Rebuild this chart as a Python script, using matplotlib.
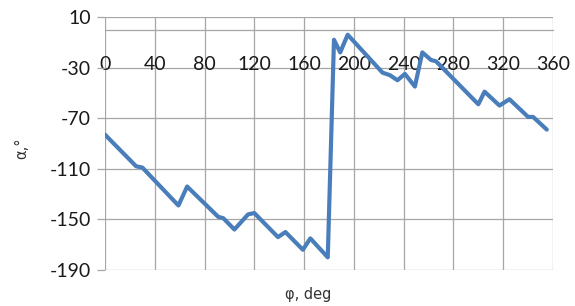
import matplotlib
matplotlib.use("Agg")
import matplotlib.pyplot as plt

phi = [0, 25, 30, 59, 66, 91, 95, 104, 115, 120, 139, 145, 159, 165, 179,
       184, 189, 195, 223, 229, 235, 241, 249, 255, 262, 266, 300, 305, 317,
       325, 340, 344, 355]
alpha = [-83, -108, -109, -139, -124, -148, -149, -158, -146, -145, -164, -160,
         -174, -165, -180, -8, -18, -4, -34, -36, -40, -35, -45, -18, -24, -25,
         -59, -49, -60, -55, -69, -69, -79]

xticks = [0, 40, 80, 120, 160, 200, 240, 280, 320, 360]
yticks = [10, -30, -70, -110, -150, -190]

fig = plt.figure(figsize=(5.75, 3.06), dpi=100)
ax = fig.add_axes([105/575, 1-270/306, 448/575, 253/306])
ax.set_xlim(0, 360)
ax.set_ylim(-190, 10)

grid_c = '#a6a6a6'
for x in xticks:
    ax.axvline(x, color=grid_c, lw=0.9, zorder=1)
for y in yticks:
    ax.axhline(y, color=grid_c, lw=0.9, zorder=1)

for s in ['top', 'right', 'left']:
    ax.spines[s].set_visible(False)
ax.spines['bottom'].set_position(('data', 0))
ax.spines['bottom'].set_color(grid_c)
ax.spines['bottom'].set_linewidth(0.9)

ax.plot(phi, alpha, color='#4a7ebb', lw=3.0, solid_joinstyle='round',
        solid_capstyle='round', zorder=3)

ax.set_xticks(xticks)
ax.set_xticklabels([str(v) for v in xticks], fontsize=14, family='Lato', color='#1a1a1a')
ax.tick_params(axis='x', length=0, pad=19)
ax.set_yticks(yticks)
ax.set_yticklabels([str(v) for v in yticks], fontsize=14, family='Lato', color='#1a1a1a')
ax.tick_params(axis='y', length=6, color=grid_c, width=0.9, pad=4)

fig.text(22/575, 1-148/306, 'α,°', rotation=90, ha='center', va='center',
         fontsize=10.5, color='#333333')
fig.text(308/575, 1-295/306, 'φ, deg', ha='center', va='center',
         fontsize=10.5, color='#333333')

fig.savefig('out.png', dpi=100)
